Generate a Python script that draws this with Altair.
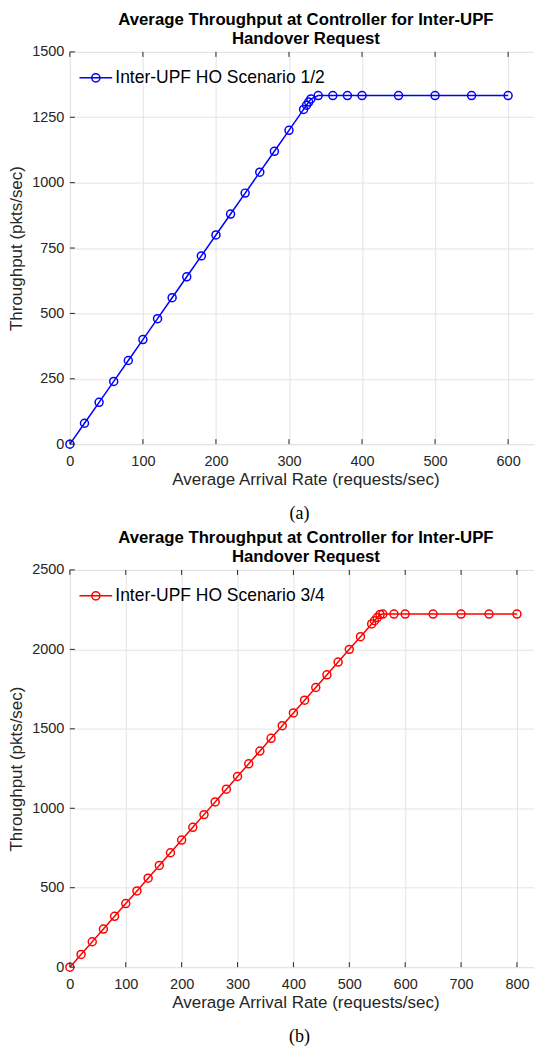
import altair as alt
import pandas as pd

FONT = "Liberation Sans"
DARK = "#262626"
GRID = "#e4e4e4"

TITLE = ["Average Throughput at Controller for Inter-UPF", "Handover Request"]
X_TITLE = "Average Arrival Rate (requests/sec)"
Y_TITLE = "Throughput (pkts/sec)"

# ---- Panel (a) data ----
a_series = "Inter-UPF HO Scenario 1/2"
a_rate = [0, 20, 40, 60, 80, 100, 120, 140, 160, 180, 200, 220, 240, 260, 280, 300,
          320, 324, 327, 330, 340, 360, 380, 400, 450, 500, 550, 600]
a_thr = [0, 80, 160, 240, 320, 400, 480, 560, 640, 720, 800, 880, 960, 1040, 1120, 1200,
         1280, 1296, 1308, 1320, 1333, 1333, 1333, 1333, 1333, 1333, 1333, 1333]
a_xticks = [0, 100, 200, 300, 400, 500, 600]
a_yticks = [0, 250, 500, 750, 1000, 1250, 1500]

# ---- Panel (b) data ----
b_series = "Inter-UPF HO Scenario 3/4"
b_rate = [0, 20, 40, 60, 80, 100, 120, 140, 160, 180, 200, 220, 240, 260, 280, 300,
          320, 340, 360, 380, 400, 420, 440, 460, 480, 500, 520, 540, 545, 550, 555,
          560, 580, 600, 650, 700, 750, 800]
b_thr = [0, 80, 160, 240, 320, 400, 480, 560, 640, 720, 800, 880, 960, 1040, 1120, 1200,
         1280, 1360, 1440, 1520, 1600, 1680, 1760, 1840, 1920, 2000, 2080, 2160, 2180, 2200, 2220,
         2222, 2222, 2222, 2222, 2222, 2222, 2222]
b_xticks = [0, 100, 200, 300, 400, 500, 600, 700, 800]
b_yticks = [0, 500, 1000, 1500, 2000, 2500]

W = 473
LEGEND_SYMBOL = "M-1,0L1,0M-0.25,0A0.25,0.25,0,1,1,0.25,0A0.25,0.25,0,1,1,-0.25,0"


def panel(rate, thr, series, color, xdom, xticks, ydom, yticks, H, caption):
    df = pd.DataFrame({"rate": rate, "thr": thr, "series": [series] * len(rate)})
    xs = alt.Scale(domain=xdom, nice=False, zero=False)
    ys = alt.Scale(domain=ydom, nice=False, zero=False)

    xax = alt.Axis(values=xticks, ticks=False, domain=False, grid=True, gridColor=GRID,
                   gridWidth=1, labelFont=FONT, labelFontSize=14.5, labelColor=DARK,
                   labelPadding=10, labelFlush=False, format="d",
                   title=X_TITLE, titleFont=FONT, titleFontSize=17, titleFontWeight="normal",
                   titleColor=DARK, titleBaseline="alphabetic", titleY=40.5, titleX=236)
    yax = alt.Axis(values=yticks, ticks=False, domain=False, grid=True, gridColor=GRID,
                   gridWidth=1, labelFont=FONT, labelFontSize=14.5, labelColor=DARK,
                   labelPadding=6, labelFlush=False, format="d",
                   title=Y_TITLE, titleFont=FONT, titleFontSize=17, titleFontWeight="normal",
                   titleColor=DARK, titleBaseline="alphabetic", titleX=-48, titleY=H / 2,
                   titleAngle=270)

    X = lambda f: alt.X(f, scale=xs, axis=xax, title=X_TITLE)
    Y = lambda f: alt.Y(f, scale=ys, axis=yax, title=Y_TITLE)

    line = alt.Chart(df).mark_line(color=color, strokeWidth=1.5).encode(
        x=X("rate:Q"), y=Y("thr:Q"))
    pts = alt.Chart(df).mark_point(shape="circle", filled=False, size=64, strokeWidth=1.5,
                                   opacity=1).encode(
        x=X("rate:Q"), y=Y("thr:Q"),
        color=alt.Color("series:N", scale=alt.Scale(domain=[series], range=[color]),
                        legend=alt.Legend(title=None, orient="none", legendX=8.5, legendY=8.5,
                                          symbolType=LEGEND_SYMBOL, symbolSize=1076,
                                          symbolStrokeWidth=1.5, symbolFillColor="transparent",
                                          symbolStrokeColor=color, padding=0, symbolOffset=0,
                                          labelOffset=2, labelFont=FONT, labelFontSize=17.5,
                                          labelColor="black", labelLimit=0)),
    )

    xt = pd.DataFrame({"rate": xticks})
    yt = pd.DataFrame({"thr": yticks})
    tick_style = dict(color=DARK, strokeWidth=1)
    bottom_t = alt.Chart(xt).mark_rule(**tick_style).encode(
        x=X("rate:Q"), y=alt.value(H), y2=alt.value(H - 5))
    top_t = alt.Chart(xt).mark_rule(**tick_style).encode(
        x=X("rate:Q"), y=alt.value(0), y2=alt.value(5))
    left_t = alt.Chart(yt).mark_rule(**tick_style).encode(
        y=Y("thr:Q"), x=alt.value(0), x2=alt.value(5))
    right_t = alt.Chart(yt).mark_rule(**tick_style).encode(
        y=Y("thr:Q"), x=alt.value(W), x2=alt.value(W - 5))

    cap = alt.Chart(pd.DataFrame({"t": [caption]})).mark_text(
        font="Liberation Serif", fontSize=18, color="black", baseline="alphabetic",
        align="center").encode(text="t:N", x=alt.value(230), y=alt.value(H + 75))

    return alt.layer(line, pts, bottom_t, top_t, left_t, right_t, cap).properties(
        width=W, height=H,
        title=alt.TitleParams(text=TITLE, font=FONT, fontSize=16.8, fontWeight="bold",
                              color="black", anchor="middle", frame="group", offset=-21,
                              lineHeight=19, baseline="bottom"),
    ).resolve_scale(color="independent")


pa = panel(a_rate, a_thr, a_series, "#0000ff", [0, 646.4], a_xticks, [0, 1500], a_yticks,
           393, "(a)")
pb = panel(b_rate, b_thr, b_series, "#ff0000", [0, 844.8], b_xticks, [0, 2500], b_yticks,
           398, "(b)")

chart = alt.vconcat(pa, pb, spacing=5).resolve_scale(
    color="independent", x="independent", y="independent"
).resolve_legend(color="independent").properties(
    padding={"left": -1, "top": 2, "right": -9, "bottom": 0}
).configure_view(stroke=DARK, strokeWidth=1).configure(background="white")

chart.save("out.html", embed_options={"renderer": "svg", "actions": False})
